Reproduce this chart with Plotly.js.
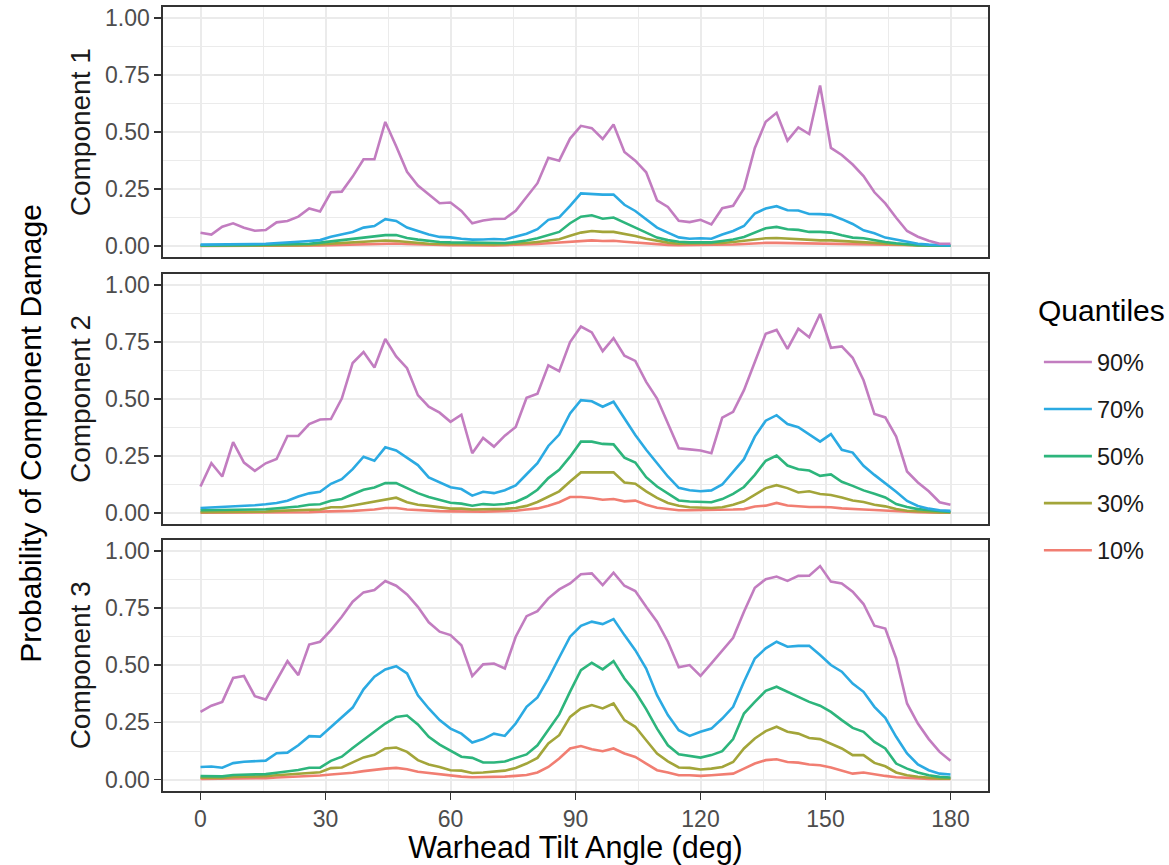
<!DOCTYPE html>
<html>
<head>
<meta charset="utf-8">
<script src="https://cdn.plot.ly/plotly-3.0.1.min.js"></script>
<style>html,body{margin:0;padding:0;background:#fff;}#chart{width:1169px;height:865px;}</style>
</head>
<body>
<div id="chart"></div>
<script>
// Warhead tilt angle (deg)
const angles = [0,2.61,5.22,7.83,10.43,13.04,15.65,18.26,20.87,23.48,26.09,28.7,31.3,33.91,36.52,39.13,41.74,44.35,46.96,49.57,52.17,54.78,57.39,60,62.61,65.22,67.83,70.43,73.04,75.65,78.26,80.87,83.48,86.09,88.7,91.3,93.91,96.52,99.13,101.74,104.35,106.96,109.57,112.17,114.78,117.39,120,122.61,125.22,127.83,130.43,133.04,135.65,138.26,140.87,143.48,146.09,148.7,151.3,153.91,156.52,159.13,161.74,164.35,166.96,169.57,172.17,174.78,177.39,180];

const components = ["Component 1","Component 2","Component 3"];
const quantiles = ["10%","30%","50%","70%","90%"];
const xTicks = [0,30,60,90,120,150,180];
const yTicks = [0,0.25,0.5,0.75,1];
const yTickText = ["0.00","0.25","0.50","0.75","1.00"];

// Component 1
const c1_q90 = [0.058,0.050,0.085,0.100,0.080,0.067,0.070,0.104,0.110,0.129,0.165,0.152,0.236,0.239,0.305,0.381,0.381,0.545,0.438,0.326,0.266,0.226,0.188,0.191,0.154,0.100,0.112,0.119,0.120,0.155,0.215,0.276,0.388,0.375,0.472,
  0.528,0.518,0.470,0.534,0.413,0.375,0.324,0.201,0.172,0.111,0.105,0.115,0.095,0.166,0.177,0.253,0.431,0.546,0.585,0.463,0.521,0.492,0.705,0.431,0.400,0.358,0.307,0.236,0.187,0.124,0.066,0.041,0.023,0.010,0.010];
const c1_q70 = [0.006,0.006,0.007,0.008,0.009,0.009,0.010,0.012,0.015,0.019,0.022,0.026,0.041,0.050,0.062,0.081,0.088,0.118,0.110,0.081,0.065,0.051,0.040,0.038,0.032,0.028,0.029,0.031,0.029,0.041,0.054,0.074,0.115,0.126,0.176,
  0.231,0.228,0.226,0.226,0.181,0.154,0.118,0.081,0.059,0.038,0.032,0.034,0.032,0.051,0.066,0.088,0.143,0.165,0.175,0.157,0.156,0.141,0.140,0.137,0.118,0.097,0.069,0.056,0.037,0.028,0.018,0.010,0.006,0.003,0.002];
const c1_q50 = [0.002,0.002,0.003,0.003,0.004,0.005,0.006,0.007,0.008,0.009,0.010,0.015,0.020,0.025,0.030,0.035,0.040,0.048,0.048,0.035,0.028,0.022,0.018,0.016,0.015,0.013,0.013,0.013,0.013,0.018,0.024,0.034,0.048,0.062,0.100,
  0.129,0.135,0.120,0.125,0.103,0.081,0.056,0.037,0.026,0.019,0.016,0.016,0.016,0.022,0.029,0.040,0.059,0.078,0.084,0.074,0.071,0.062,0.062,0.059,0.047,0.037,0.034,0.025,0.018,0.012,0.007,0.004,0.003,0.002,0.001];
const c1_q30 = [0.001,0.001,0.001,0.001,0.002,0.002,0.002,0.003,0.003,0.004,0.005,0.008,0.010,0.013,0.015,0.017,0.020,0.024,0.022,0.018,0.013,0.010,0.009,0.008,0.008,0.007,0.007,0.007,0.008,0.010,0.013,0.018,0.025,0.030,0.045,
  0.059,0.066,0.062,0.062,0.054,0.044,0.032,0.022,0.015,0.010,0.010,0.010,0.010,0.013,0.018,0.024,0.029,0.034,0.035,0.032,0.032,0.029,0.025,0.025,0.022,0.018,0.016,0.015,0.010,0.007,0.005,0.003,0.002,0.001,0.001];
const c1_q10 = [0.000,0.000,0.001,0.001,0.001,0.001,0.001,0.001,0.002,0.002,0.002,0.003,0.004,0.005,0.006,0.008,0.009,0.012,0.011,0.009,0.007,0.005,0.004,0.004,0.004,0.003,0.003,0.003,0.004,0.005,0.006,0.009,0.012,0.015,0.020,
  0.022,0.025,0.022,0.023,0.019,0.015,0.010,0.006,0.005,0.004,0.004,0.004,0.004,0.005,0.007,0.009,0.012,0.014,0.014,0.013,0.013,0.012,0.012,0.011,0.009,0.008,0.007,0.006,0.004,0.003,0.002,0.002,0.001,0.001,0.001];

// Component 2
const c2_q90 = [0.116,0.218,0.160,0.311,0.221,0.185,0.218,0.237,0.338,0.338,0.390,0.410,0.412,0.502,0.658,0.706,0.638,0.763,0.687,0.635,0.517,0.466,0.440,0.400,0.431,0.262,0.329,0.291,0.339,0.377,0.505,0.523,0.648,0.622,0.750,
  0.818,0.792,0.710,0.767,0.690,0.667,0.575,0.502,0.393,0.284,0.279,0.274,0.262,0.418,0.444,0.539,0.662,0.786,0.803,0.720,0.808,0.771,0.873,0.725,0.731,0.681,0.582,0.434,0.419,0.335,0.182,0.134,0.095,0.047,0.036];
const c2_q70 = [0.022,0.024,0.026,0.029,0.031,0.034,0.038,0.044,0.054,0.072,0.086,0.093,0.128,0.148,0.192,0.247,0.229,0.288,0.274,0.243,0.210,0.156,0.134,0.113,0.105,0.076,0.093,0.087,0.100,0.121,0.170,0.218,0.294,0.344,0.437,
  0.495,0.490,0.466,0.488,0.415,0.342,0.277,0.218,0.160,0.110,0.100,0.095,0.099,0.125,0.182,0.236,0.335,0.405,0.429,0.390,0.376,0.346,0.313,0.346,0.277,0.265,0.207,0.167,0.131,0.093,0.053,0.031,0.019,0.012,0.009];
const c2_q50 = [0.012,0.012,0.012,0.012,0.013,0.015,0.016,0.019,0.022,0.028,0.036,0.038,0.054,0.061,0.082,0.102,0.112,0.131,0.131,0.109,0.087,0.070,0.058,0.045,0.041,0.032,0.039,0.036,0.039,0.048,0.070,0.102,0.153,0.189,0.247,
  0.313,0.313,0.303,0.301,0.243,0.221,0.157,0.116,0.084,0.055,0.050,0.047,0.047,0.061,0.084,0.114,0.167,0.229,0.252,0.208,0.192,0.186,0.163,0.169,0.137,0.119,0.099,0.084,0.068,0.039,0.026,0.017,0.012,0.007,0.004];
const c2_q30 = [0.003,0.003,0.003,0.004,0.004,0.005,0.006,0.009,0.010,0.012,0.013,0.015,0.025,0.025,0.033,0.042,0.049,0.061,0.067,0.047,0.036,0.031,0.025,0.019,0.019,0.015,0.016,0.016,0.018,0.022,0.031,0.048,0.073,0.095,0.138,
  0.178,0.178,0.178,0.178,0.134,0.128,0.095,0.066,0.044,0.032,0.025,0.022,0.022,0.025,0.036,0.051,0.080,0.109,0.122,0.109,0.090,0.095,0.083,0.079,0.068,0.055,0.048,0.036,0.029,0.017,0.010,0.007,0.004,0.002,0.002];
const c2_q10 = [0.001,0.001,0.001,0.001,0.002,0.002,0.002,0.002,0.003,0.003,0.003,0.006,0.006,0.006,0.009,0.012,0.015,0.022,0.022,0.015,0.012,0.009,0.008,0.007,0.006,0.006,0.006,0.007,0.008,0.010,0.015,0.020,0.032,0.047,0.070,
  0.070,0.066,0.058,0.061,0.051,0.054,0.036,0.023,0.016,0.012,0.012,0.012,0.012,0.012,0.015,0.017,0.028,0.032,0.044,0.033,0.028,0.026,0.026,0.025,0.020,0.016,0.015,0.013,0.010,0.007,0.005,0.003,0.002,0.001,0.001];

// Component 3
const c3_q90 = [0.296,0.323,0.340,0.445,0.453,0.365,0.350,0.435,0.518,0.457,0.591,0.603,0.654,0.712,0.778,0.819,0.829,0.869,0.848,0.810,0.756,0.688,0.647,0.632,0.588,0.453,0.504,0.508,0.486,0.625,0.715,0.737,0.793,0.832,0.858,
  0.898,0.902,0.851,0.905,0.848,0.825,0.756,0.691,0.603,0.491,0.501,0.454,0.508,0.566,0.620,0.734,0.839,0.877,0.888,0.869,0.891,0.892,0.934,0.866,0.858,0.822,0.768,0.673,0.661,0.530,0.333,0.245,0.177,0.121,0.082];
const c3_q70 = [0.055,0.057,0.052,0.072,0.078,0.080,0.083,0.115,0.118,0.150,0.190,0.188,0.230,0.275,0.315,0.395,0.450,0.482,0.496,0.464,0.369,0.311,0.260,0.223,0.201,0.162,0.177,0.201,0.191,0.245,0.318,0.359,0.442,0.534,0.625,
  0.673,0.691,0.680,0.702,0.632,0.566,0.486,0.369,0.282,0.216,0.191,0.209,0.223,0.267,0.318,0.428,0.530,0.574,0.603,0.581,0.585,0.585,0.545,0.501,0.472,0.420,0.384,0.318,0.270,0.187,0.114,0.066,0.041,0.026,0.022];
const c3_q50 = [0.015,0.015,0.014,0.020,0.021,0.023,0.024,0.030,0.035,0.042,0.052,0.052,0.082,0.100,0.138,0.175,0.212,0.245,0.274,0.280,0.241,0.187,0.153,0.128,0.100,0.095,0.075,0.075,0.079,0.095,0.110,0.150,0.215,0.285,0.385,
  0.479,0.511,0.482,0.518,0.442,0.384,0.308,0.223,0.150,0.111,0.104,0.096,0.107,0.124,0.177,0.289,0.340,0.388,0.406,0.384,0.362,0.340,0.323,0.296,0.260,0.226,0.209,0.165,0.136,0.070,0.048,0.031,0.019,0.012,0.009];
const c3_q30 = [0.008,0.007,0.007,0.011,0.012,0.014,0.015,0.019,0.022,0.024,0.030,0.032,0.050,0.053,0.075,0.097,0.108,0.136,0.140,0.121,0.085,0.066,0.055,0.041,0.039,0.029,0.031,0.034,0.039,0.051,0.070,0.095,0.158,0.194,0.274,
  0.311,0.326,0.311,0.333,0.260,0.231,0.172,0.114,0.080,0.053,0.051,0.044,0.048,0.055,0.077,0.136,0.180,0.212,0.231,0.209,0.201,0.182,0.177,0.158,0.136,0.107,0.107,0.073,0.058,0.031,0.019,0.012,0.007,0.004,0.004];
const c3_q10 = [0.003,0.003,0.003,0.004,0.004,0.005,0.006,0.009,0.011,0.012,0.015,0.018,0.022,0.025,0.030,0.037,0.043,0.048,0.051,0.045,0.034,0.028,0.022,0.016,0.013,0.010,0.010,0.012,0.013,0.016,0.020,0.031,0.055,0.092,0.136,
  0.147,0.133,0.124,0.136,0.114,0.099,0.070,0.041,0.031,0.019,0.019,0.016,0.019,0.022,0.026,0.048,0.070,0.085,0.089,0.077,0.074,0.066,0.063,0.053,0.041,0.026,0.031,0.022,0.016,0.010,0.007,0.004,0.003,0.003,0.003];

const seriesByComponent = [
  [c1_q10, c1_q30, c1_q50, c1_q70, c1_q90],
  [c2_q10, c2_q30, c2_q50, c2_q70, c2_q90],
  [c3_q10, c3_q30, c3_q50, c3_q70, c3_q90]
];
const colors = ["#F17E72", "#A3A53A", "#2DB57C", "#2BAAE2", "#C27DC0"];

const FONT = "Liberation Sans, Arial, Helvetica, sans-serif";
const xRefs = ["x3", "x2", "x"];
const yRefs = ["y", "y2", "y3"];
const traces = [];
seriesByComponent.forEach((set, p) => {
  set.forEach((vals, q) => {
    traces.push({
      type: "scatter", mode: "lines",
      x: angles, y: vals,
      name: quantiles[q],
      legendgroup: quantiles[q],
      legendrank: 10 - q,
      showlegend: p === 0,
      line: {color: colors[q], width: 2.6},
      xaxis: xRefs[p], yaxis: yRefs[p],
      hoverinfo: "x+y+name"
    });
  });
});

const domains = [[0.6806, 1], [0.3401, 0.6599], [0, 0.3207]];

function xAxis(anchor, showLabels) {
  return {
    domain: [0, 1], anchor: anchor, range: [-9, 189],
    tickvals: xTicks, ticktext: xTicks.map(String),
    showticklabels: showLabels,
    ticks: showLabels ? "outside" : "", ticklen: 7, tickwidth: 1.8, tickcolor: "#333333",
    tickfont: {family: FONT, size: 23, color: "#4D4D4D"},
    showgrid: true, gridcolor: "#EBEBEB", gridwidth: 2,
    minor: {dtick: 15, tick0: 15, showgrid: true, gridcolor: "#EBEBEB", gridwidth: 1, ticks: ""},
    showline: true, mirror: true, linecolor: "#333333", linewidth: 1.6,
    zeroline: false, fixedrange: true
  };
}
function yAxis(domain, anchor) {
  return {
    domain: domain, anchor: anchor, range: [-0.05, 1.05],
    tickvals: yTicks, ticktext: yTickText,
    ticks: "outside", ticklen: 7, tickwidth: 1.8, tickcolor: "#333333",
    tickfont: {family: FONT, size: 23, color: "#4D4D4D"},
    showgrid: true, gridcolor: "#EBEBEB", gridwidth: 2,
    minor: {dtick: 0.125, tick0: 0.125, showgrid: true, gridcolor: "#EBEBEB", gridwidth: 1, ticks: ""},
    showline: true, mirror: true, linecolor: "#333333", linewidth: 1.6,
    zeroline: false, fixedrange: true
  };
}

const xa = xAxis("y3", true);
xa.title = {text: "Warhead Tilt Angle (deg)", font: {family: FONT, size: 30.5, color: "#000"}, standoff: 7};

const annotations = components.map((c, p) => ({
  text: c, textangle: -90, xref: "paper", yref: "paper",
  x: -0.1005, y: (domains[p][0] + domains[p][1]) / 2,
  xanchor: "center", yanchor: "middle", showarrow: false,
  font: {family: FONT, size: 28, color: "#1A1A1A"}
}));
annotations.push({
  text: "Probability of Component Damage", textangle: -90, xref: "paper", yref: "paper",
  x: -0.161, y: 0.456, xanchor: "center", yanchor: "middle", showarrow: false,
  font: {family: FONT, size: 30, color: "#000"}
});
annotations.push({
  text: "Quantiles", xref: "paper", yref: "paper",
  x: 1.058, y: 0.613, xanchor: "left", yanchor: "middle", showarrow: false,
  font: {family: FONT, size: 30, color: "#000"}
});

const layout = {
  width: 1169, height: 865,
  margin: {l: 163, r: 181, t: 7, b: 74, pad: 0, autoexpand: false},
  paper_bgcolor: "#FFFFFF", plot_bgcolor: "#FFFFFF",
  font: {family: FONT, color: "#000"},
  showlegend: true,
  legend: {
    x: 1.0617, y: 0.575, xanchor: "left", yanchor: "top",
    traceorder: "grouped", tracegroupgap: 13.5,
    font: {family: FONT, size: 23.5, color: "#1A1A1A"},
    itemwidth: 48, bgcolor: "rgba(0,0,0,0)", borderwidth: 0
  },
  xaxis: xa,
  xaxis2: xAxis("y2", false),
  xaxis3: xAxis("y", false),
  yaxis: yAxis(domains[0], "x3"),
  yaxis2: yAxis(domains[1], "x2"),
  yaxis3: yAxis(domains[2], "x"),
  annotations: annotations
};

Plotly.newPlot("chart", traces, layout, {displayModeBar: false, staticPlot: true});
</script>
</body>
</html>
